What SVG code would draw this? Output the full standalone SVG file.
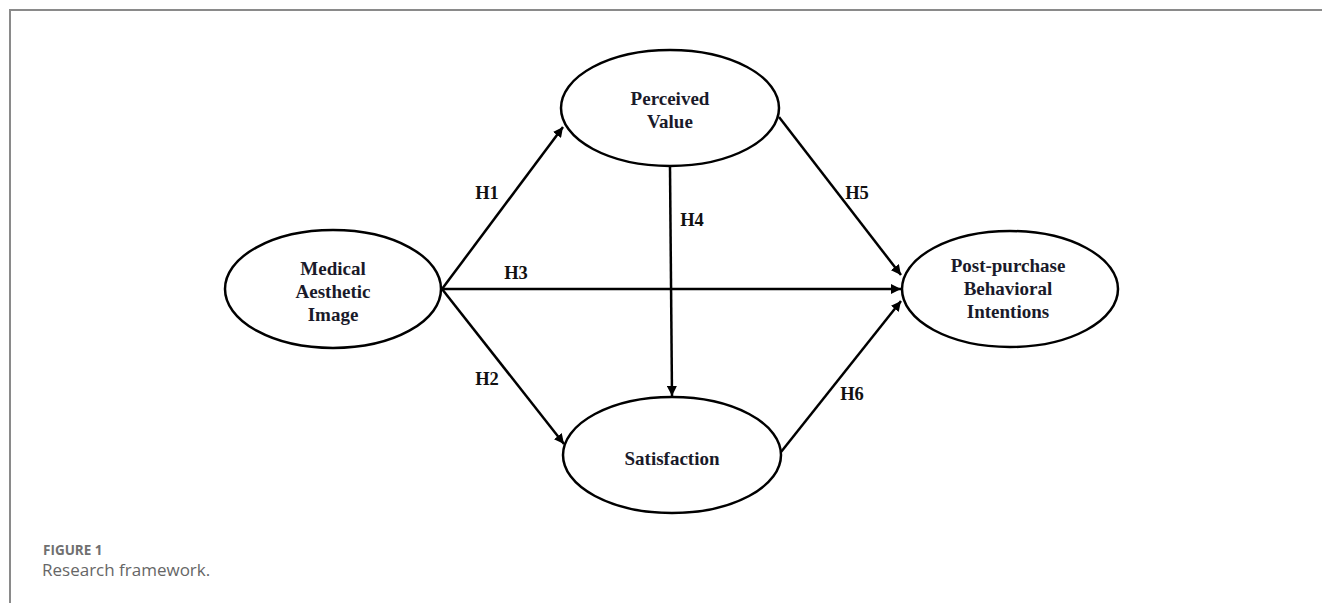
<svg xmlns="http://www.w3.org/2000/svg" width="1322" height="603" viewBox="0 0 1322 603">
<style>
.node{fill:#fff;stroke:#000;stroke-width:2.5}
.lbl{font-family:"Liberation Serif",serif;font-weight:bold;font-size:19px;fill:#1a1a2a;text-anchor:middle}
.edge{stroke:#000;stroke-width:2.5;fill:none;marker-end:url(#ah)}
.h{font-family:"Liberation Serif",serif;font-weight:bold;font-size:18.5px;fill:#111;text-anchor:middle}
</style>
<defs>
<marker id="ah" viewBox="0 0 10 10" refX="10" refY="5" markerWidth="4" markerHeight="4" orient="auto" markerUnits="strokeWidth">
<path d="M0,0 L10,5 L0,10 z" fill="#000"/>
</marker>
</defs>
<rect width="1322" height="603" fill="#fff"/>
<path d="M10,603 V10 H1322" fill="none" stroke="#8a8a8a" stroke-width="2"/>
<g id="connectors">
<line class="edge" x1="442" y1="289" x2="563" y2="127"/>
<line class="edge" x1="442" y1="289" x2="564" y2="444"/>
<line class="edge" x1="442" y1="289" x2="901" y2="289"/>
<line class="edge" x1="670" y1="167" x2="672" y2="396"/>
<line class="edge" x1="779" y1="117" x2="901" y2="275"/>
<line class="edge" x1="781" y1="452" x2="901" y2="301"/>
<text class="h" x="487" y="199">H1</text>
<text class="h" x="487" y="385">H2</text>
<text class="h" x="516" y="279">H3</text>
<text class="h" x="692" y="226">H4</text>
<text class="h" x="857" y="199">H5</text>
<text class="h" x="852" y="400">H6</text>
</g>
<g id="node-mai">
<ellipse class="node" cx="333" cy="289" rx="108" ry="59"/>
<text class="lbl" x="333" y="275">Medical</text>
<text class="lbl" x="333" y="298">Aesthetic</text>
<text class="lbl" x="333" y="321">Image</text>
</g>
<g id="node-pv">
<ellipse class="node" cx="670" cy="108" rx="109" ry="58"/>
<text class="lbl" x="670" y="105">Perceived</text>
<text class="lbl" x="670" y="128">Value</text>
</g>
<g id="node-pbi">
<ellipse class="node" cx="1010" cy="289" rx="108" ry="58"/>
<text class="lbl" x="1008" y="272">Post-purchase</text>
<text class="lbl" x="1008" y="295">Behavioral</text>
<text class="lbl" x="1008" y="318">Intentions</text>
</g>
<g id="node-sat">
<ellipse class="node" cx="672" cy="455" rx="109" ry="58"/>
<text class="lbl" x="672" y="465">Satisfaction</text>
</g>
<g id="caption">
<text x="43" y="555" font-family="Open Sans, sans-serif" font-size="13.5" font-weight="bold" fill="#707070">FIGURE 1</text>
<text x="42" y="576" font-family="Open Sans, sans-serif" font-size="17" fill="#666">Research framework.</text>
</g>
</svg>
